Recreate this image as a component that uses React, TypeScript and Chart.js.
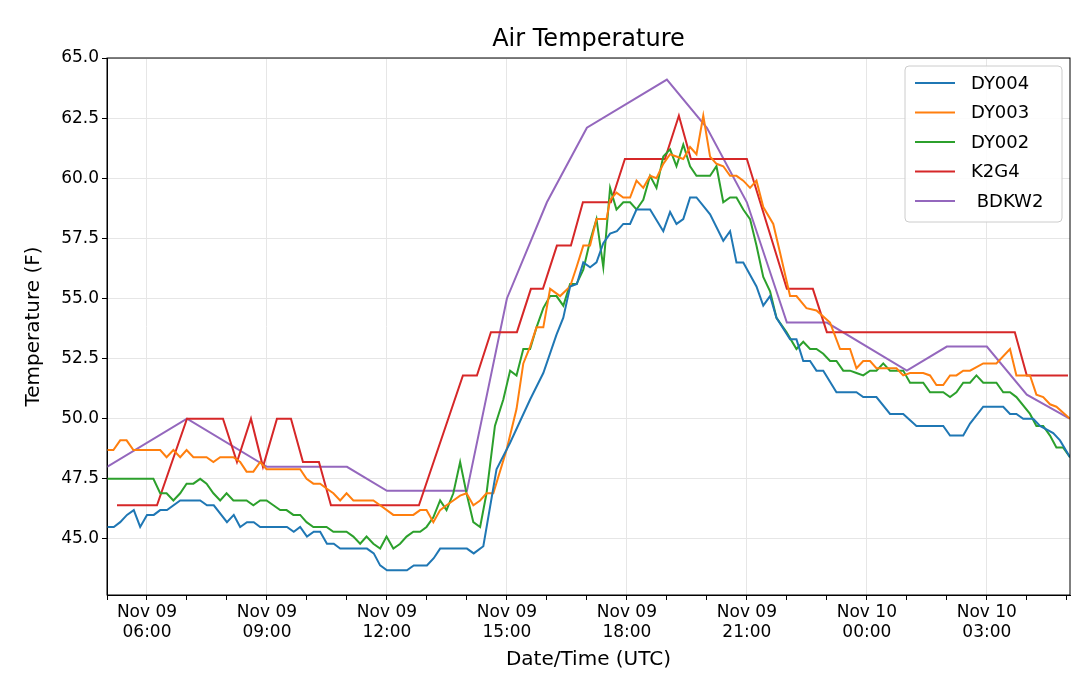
import { useRef, useEffect } from 'react';
import Chart from 'chart.js/auto';

// hours since Nov 09 00:00 UTC
const bdkw2Hours = [5, 7, 9, 11, 12, 14, 15, 16, 17, 19, 20, 21, 22, 23, 25, 26, 27, 28, 29.07];
const bdkw2Temps = [48, 50, 48, 48, 47, 47, 55, 59, 62.1, 64.1, 62.1, 59, 54, 54, 52, 53, 53, 51, 50];

const k2g4Hours = [5.25, 6.25, 7, 7.9, 8.25, 8.6, 8.9, 9.25, 9.6, 9.9, 10.3, 10.6, 12.8, 13.9, 14.25, 14.6, 15.25, 15.6, 15.9, 16.25, 16.6, 16.9, 17.6, 17.95, 18.95, 19.3, 19.6, 21, 22, 22.65, 23, 27.7, 28, 29.03];
const k2g4Temps = [46.4, 46.4, 50, 50, 48.2, 50, 48, 50, 50, 48.2, 48.2, 46.4, 46.4, 51.8, 51.8, 53.6, 53.6, 55.4, 55.4, 57.2, 57.2, 59, 59, 60.8, 60.8, 62.6, 60.8, 60.8, 55.4, 55.4, 53.6, 53.6, 51.8, 51.8];

const dy004Hours = [5, 5.17, 5.33, 5.5, 5.67, 5.83, 6, 6.17, 6.33, 6.5, 6.83, 7.33, 7.5, 7.67, 8, 8.17, 8.33, 8.5, 8.67, 8.83, 9.5, 9.67, 9.83, 10, 10.17, 10.33, 10.5, 10.67, 10.83, 11.5, 11.67, 11.83, 12, 12.5, 12.67, 13, 13.17, 13.33, 14, 14.17, 14.41, 14.74, 15.08, 15.58, 15.91, 16.24, 16.41, 16.58, 16.75, 16.91, 17.08, 17.24, 17.41, 17.58, 17.75, 17.91, 18.08, 18.24, 18.58, 18.91, 19.08, 19.24, 19.41, 19.58, 19.74, 20.08, 20.41, 20.58, 20.74, 20.91, 21.24, 21.41, 21.58, 21.74, 22.08, 22.24, 22.41, 22.58, 22.74, 22.91, 23.24, 23.74, 23.91, 24.24, 24.58, 24.91, 25.24, 25.91, 26.08, 26.41, 26.58, 26.91, 27.41, 27.58, 27.74, 27.91, 28.16, 28.33, 28.66, 28.83, 29.08];
const dy004Temps = [45.5, 45.5, 45.7, 46.0, 46.2, 45.5, 46.0, 46.0, 46.2, 46.2, 46.6, 46.6, 46.4, 46.4, 45.7, 46.0, 45.5, 45.7, 45.7, 45.5, 45.5, 45.3, 45.5, 45.1, 45.3, 45.3, 44.8, 44.8, 44.6, 44.6, 44.4, 43.9, 43.7, 43.7, 43.9, 43.9, 44.2, 44.6, 44.6, 44.4, 44.7, 47.9, 49.0, 50.8, 51.9, 53.5, 54.2, 55.5, 55.6, 56.5, 56.3, 56.5, 57.3, 57.7, 57.8, 58.1, 58.1, 58.7, 58.7, 57.8, 58.6, 58.1, 58.3, 59.2, 59.2, 58.5, 57.4, 57.8, 56.5, 56.5, 55.5, 54.7, 55.1, 54.2, 53.3, 53.3, 52.4, 52.4, 52.0, 52.0, 51.1, 51.1, 50.9, 50.9, 50.2, 50.2, 49.7, 49.7, 49.3, 49.3, 49.8, 50.5, 50.5, 50.2, 50.2, 50.0, 50.0, 49.7, 49.4, 49.1, 48.4];

const dy003Hours = [5, 5.16, 5.33, 5.49, 5.66, 6.33, 6.49, 6.66, 6.83, 6.99, 7.16, 7.49, 7.66, 7.83, 8.16, 8.33, 8.49, 8.66, 8.83, 8.99, 9.83, 9.99, 10.16, 10.33, 10.49, 10.66, 10.83, 10.99, 11.16, 11.66, 11.83, 12.16, 12.66, 12.83, 12.99, 13.16, 13.33, 13.49, 13.66, 13.83, 13.99, 14.16, 14.33, 14.49, 14.66, 14.99, 15.24, 15.41, 15.58, 15.74, 15.91, 16.08, 16.33, 16.58, 16.74, 16.91, 17.08, 17.24, 17.49, 17.58, 17.74, 17.91, 18.08, 18.24, 18.41, 18.58, 18.74, 18.91, 19.08, 19.41, 19.58, 19.74, 19.91, 20.08, 20.24, 20.41, 20.58, 20.74, 20.91, 21.08, 21.24, 21.41, 21.66, 21.83, 22.08, 22.24, 22.49, 22.74, 23.08, 23.33, 23.58, 23.74, 23.91, 24.08, 24.24, 24.74, 24.91, 25.08, 25.41, 25.58, 25.74, 25.91, 26.08, 26.24, 26.41, 26.58, 26.91, 27.24, 27.58, 27.74, 28.08, 28.24, 28.41, 28.58, 28.74, 29.08];
const dy003Temps = [48.7, 48.7, 49.1, 49.1, 48.7, 48.7, 48.4, 48.7, 48.4, 48.7, 48.4, 48.4, 48.2, 48.4, 48.4, 48.2, 47.8, 47.8, 48.2, 47.9, 47.9, 47.5, 47.3, 47.3, 47.1, 46.9, 46.6, 46.9, 46.6, 46.6, 46.4, 46.0, 46.0, 46.2, 46.2, 45.7, 46.2, 46.4, 46.6, 46.8, 46.9, 46.4, 46.6, 46.9, 46.9, 48.7, 50.4, 52.3, 53.0, 53.8, 53.8, 55.4, 55.1, 55.5, 56.3, 57.2, 57.2, 58.3, 58.3, 59.1, 59.4, 59.2, 59.2, 59.9, 59.6, 60.1, 60.0, 60.6, 61.0, 60.8, 61.3, 61.0, 62.6, 60.9, 60.6, 60.5, 60.1, 60.1, 59.9, 59.6, 59.9, 58.8, 58.1, 56.9, 55.1, 55.1, 54.6, 54.5, 54.0, 52.9, 52.9, 52.1, 52.4, 52.4, 52.1, 52.1, 51.8, 51.9, 51.9, 51.8, 51.4, 51.4, 51.8, 51.8, 52.0, 52.0, 52.3, 52.3, 52.9, 51.8, 51.8, 51.0, 50.9, 50.6, 50.5, 50.0, 49.3];

const dy002Hours = [5, 6.16, 6.33, 6.49, 6.66, 6.83, 6.99, 7.16, 7.33, 7.49, 7.66, 7.83, 7.99, 8.16, 8.49, 8.66, 8.83, 8.99, 9.16, 9.33, 9.49, 9.66, 9.83, 9.99, 10.16, 10.49, 10.66, 10.99, 11.16, 11.33, 11.49, 11.66, 11.83, 11.99, 12.16, 12.33, 12.49, 12.66, 12.83, 12.99, 13.16, 13.33, 13.49, 13.66, 13.83, 13.99, 14.16, 14.33, 14.49, 14.7, 14.91, 15.08, 15.24, 15.41, 15.58, 15.74, 15.91, 16.08, 16.24, 16.41, 16.58, 16.74, 16.91, 17.08, 17.24, 17.41, 17.58, 17.74, 17.91, 18.08, 18.24, 18.41, 18.58, 18.74, 18.91, 19.08, 19.24, 19.41, 19.58, 19.74, 20.08, 20.24, 20.41, 20.58, 20.74, 20.91, 21.08, 21.24, 21.41, 21.58, 21.74, 21.99, 22.24, 22.41, 22.58, 22.74, 22.91, 23.08, 23.24, 23.41, 23.58, 23.74, 23.91, 24.08, 24.24, 24.41, 24.58, 24.91, 25.08, 25.41, 25.58, 25.91, 26.08, 26.24, 26.41, 26.58, 26.74, 26.91, 27.24, 27.41, 27.58, 27.74, 28.08, 28.24, 28.41, 28.58, 28.74, 28.91, 29.08];
const dy002Temps = [47.5, 47.5, 46.9, 46.9, 46.6, 46.9, 47.3, 47.3, 47.5, 47.3, 46.9, 46.6, 46.9, 46.6, 46.6, 46.4, 46.6, 46.6, 46.4, 46.2, 46.2, 46.0, 46.0, 45.7, 45.5, 45.5, 45.3, 45.3, 45.1, 44.8, 45.1, 44.8, 44.6, 45.1, 44.6, 44.8, 45.1, 45.3, 45.3, 45.5, 45.9, 46.6, 46.2, 46.9, 48.2, 46.9, 45.7, 45.5, 46.9, 49.7, 50.8, 52.0, 51.8, 52.9, 52.9, 53.8, 54.6, 55.1, 55.1, 54.7, 55.6, 55.6, 56.2, 57.4, 58.3, 56.3, 59.6, 58.7, 59.0, 59.0, 58.7, 59.1, 60.1, 59.6, 60.9, 61.2, 60.5, 61.4, 60.5, 60.1, 60.1, 60.5, 59.0, 59.2, 59.2, 58.7, 58.3, 57.2, 55.9, 55.3, 54.2, 53.6, 52.9, 53.2, 52.9, 52.9, 52.7, 52.4, 52.4, 52.0, 52.0, 51.9, 51.8, 52.0, 52.0, 52.3, 52.0, 52.0, 51.5, 51.5, 51.1, 51.1, 50.9, 51.1, 51.5, 51.5, 51.8, 51.5, 51.5, 51.1, 51.1, 50.9, 50.2, 49.7, 49.7, 49.3, 48.8, 48.8, 48.4];

const xTickHours = [5, 6, 7, 8, 9, 10, 11, 12, 13, 14, 15, 16, 17, 18, 19, 20, 21, 22, 23, 24, 25, 26, 27, 28, 29];
const xTickLabels: Record<number, string[]> = {
  6: ['Nov 09', '06:00'], 9: ['Nov 09', '09:00'], 12: ['Nov 09', '12:00'], 15: ['Nov 09', '15:00'],
  18: ['Nov 09', '18:00'], 21: ['Nov 09', '21:00'], 24: ['Nov 10', '00:00'], 27: ['Nov 10', '03:00'],
};
const yTicks = [45, 47.5, 50, 52.5, 55, 57.5, 60, 62.5, 65];

const series = [
  { label: 'DY004', hours: dy004Hours, temps: dy004Temps, color: '#1f77b4' },
  { label: 'DY003', hours: dy003Hours, temps: dy003Temps, color: '#ff7f0e' },
  { label: 'DY002', hours: dy002Hours, temps: dy002Temps, color: '#2ca02c' },
  { label: 'K2G4', hours: k2g4Hours, temps: k2g4Temps, color: '#d62728' },
  { label: ' BDKW2', hours: bdkw2Hours, temps: bdkw2Temps, color: '#9467bd' },
];

const FONT = "'DejaVu Sans', sans-serif";

const extras = {
  id: 'extras',
  afterDraw(chart: any) {
    const { ctx, chartArea: a } = chart;
    ctx.save();
    ctx.strokeStyle = '#000';
    ctx.lineWidth = 1;
    ctx.strokeRect(a.left, a.top, a.right - a.left, a.bottom - a.top);
    ctx.fillStyle = '#000';
    ctx.font = `24px ${FONT}`;
    ctx.textAlign = 'center';
    ctx.textBaseline = 'middle';
    ctx.fillText('Air Temperature', (a.left + a.right) / 2, 40);
    // legend
    const lx = 905, ly = 66, w = 157, h = 156;
    ctx.fillStyle = 'rgba(255,255,255,0.85)';
    ctx.strokeStyle = '#ccc';
    ctx.beginPath();
    ctx.roundRect(lx, ly, w, h, 4);
    ctx.fill();
    ctx.stroke();
    ctx.font = `18px ${FONT}`;
    ctx.textAlign = 'left';
    series.forEach((s, i) => {
      const y = ly + 17 + i * 29.5;
      ctx.strokeStyle = s.color;
      ctx.lineWidth = 2;
      ctx.beginPath();
      ctx.moveTo(lx + 10, y);
      ctx.lineTo(lx + 50, y);
      ctx.stroke();
      ctx.fillStyle = '#000';
      ctx.fillText(s.label, lx + 66, y + 1);
    });
    ctx.restore();
  },
};

const App = () => {
  const chartRef = useRef<HTMLCanvasElement | null>(null);

  useEffect(() => {
    document.body.style.margin = '0';
    const chart = new Chart(chartRef.current!, {
      type: 'line',
      data: {
        datasets: series.map((s) => ({
          label: s.label,
          data: s.hours.map((h, i) => ({ x: h, y: s.temps[i] })),
          borderColor: s.color,
          backgroundColor: s.color,
          borderWidth: 2,
          pointRadius: 0,
          tension: 0,
        })),
      },
      options: {
        animation: false,
        responsive: false,
        layout: { padding: { top: 58, right: 10, left: 22, bottom: 14 } },
        plugins: { legend: { display: false }, title: { display: false }, tooltip: { enabled: false } },
        scales: {
          x: {
            type: 'linear',
            min: 5,
            max: 29.08,
            afterBuildTicks: (sc: any) => { sc.ticks = xTickHours.map((v) => ({ value: v })); },
            afterFit: (sc: any) => { sc.height = 77; },
            ticks: {
              autoSkip: false,
              maxRotation: 0,
              color: '#000',
              font: { family: FONT, size: 17 },
              padding: 2,
              callback: (v: any) => xTickLabels[v as number] ?? '',
            },
            grid: {
              color: (c: any) => (c.tick && c.tick.value % 3 === 0 ? '#e6e6e6' : 'rgba(0,0,0,0)'),
              tickColor: '#000',
              tickLength: 5,
            },
            border: { color: '#000' },
            title: { display: true, text: 'Date/Time (UTC)', color: '#000', font: { family: FONT, size: 20 }, padding: 0 },
          },
          y: {
            min: 42.67,
            max: 65,
            afterBuildTicks: (sc: any) => { sc.ticks = yTicks.map((v) => ({ value: v })); },
            afterFit: (sc: any) => { sc.width = 85; },
            ticks: { color: '#000', font: { family: FONT, size: 17 }, callback: (v: any) => Number(v).toFixed(1) },
            grid: { color: '#e6e6e6', tickColor: '#000', tickLength: 5 },
            border: { color: '#000' },
            title: { display: true, text: 'Temperature (F)', color: '#000', font: { family: FONT, size: 20 }, padding: 0 },
          },
        },
      },
      plugins: [extras],
    });
    return () => {
      chart.destroy();
    };
  }, []);

  return <canvas ref={chartRef} width={1080} height={686} />;
};

export default App;
